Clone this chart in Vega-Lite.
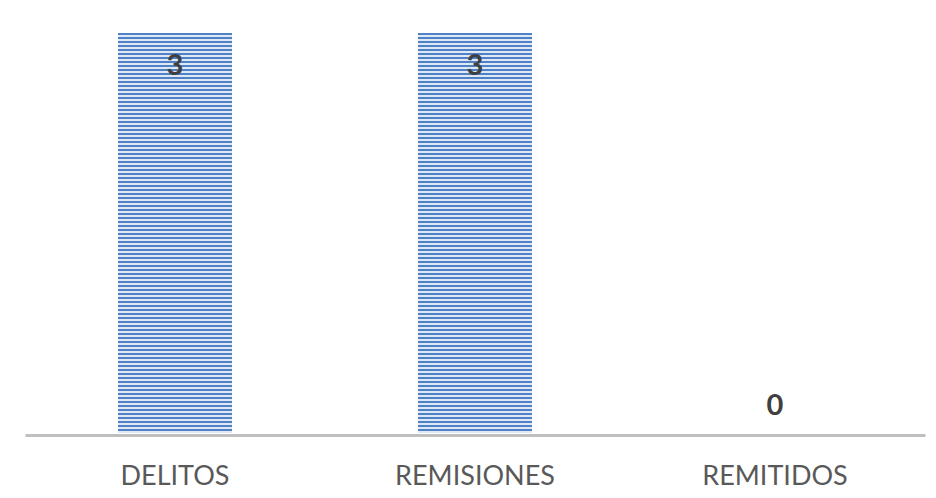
{
  "$schema": "https://vega.github.io/schema/vega-lite/v6.json",
  "width": 900,
  "height": 400,
  "autosize": {"type": "none"},
  "padding": {"left": 25, "top": 33, "right": 11, "bottom": 65},
  "background": "white",
  "config": {"view": {"stroke": null}, "font": "Lato"},
  "data": {
    "values": [
      {"categoria": "DELITOS", "total": 3},
      {"categoria": "REMISIONES", "total": 3},
      {"categoria": "REMITIDOS", "total": 0}
    ]
  },
  "encoding": {
    "x": {
      "field": "categoria",
      "type": "nominal",
      "sort": null,
      "scale": {"paddingInner": 0.62, "paddingOuter": 0.31},
      "axis": {
        "title": null,
        "labelAngle": 0,
        "ticks": false,
        "offset": 2,
        "domainColor": "#bfbfbf",
        "domainWidth": 3,
        "labelFont": "Lato",
        "labelFontSize": 27,
        "labelColor": "#595959",
        "labelPadding": 28
      }
    },
    "y": {
      "field": "total",
      "type": "quantitative",
      "scale": {"domain": [0, 3], "nice": false},
      "axis": null
    }
  },
  "layer": [
    {
      "mark": {
        "type": "bar",
        "fill": {
          "gradient": "linear",
          "x1": 0, "y1": 0, "x2": 0, "y2": 1,
          "stops": [
{"offset":0.00,"color":"#4f81c7"},{"offset":0.005,"color":"#4f81c7"},{"offset":0.005,"color":"#dfe9f6"},{"offset":0.01,"color":"#dfe9f6"},
{"offset":0.01,"color":"#4f81c7"},{"offset":0.015,"color":"#4f81c7"},{"offset":0.015,"color":"#dfe9f6"},{"offset":0.02,"color":"#dfe9f6"},
{"offset":0.02,"color":"#4f81c7"},{"offset":0.025,"color":"#4f81c7"},{"offset":0.025,"color":"#dfe9f6"},{"offset":0.03,"color":"#dfe9f6"},
{"offset":0.03,"color":"#4f81c7"},{"offset":0.035,"color":"#4f81c7"},{"offset":0.035,"color":"#dfe9f6"},{"offset":0.04,"color":"#dfe9f6"},
{"offset":0.04,"color":"#4f81c7"},{"offset":0.045,"color":"#4f81c7"},{"offset":0.045,"color":"#dfe9f6"},{"offset":0.05,"color":"#dfe9f6"},
{"offset":0.05,"color":"#4f81c7"},{"offset":0.055,"color":"#4f81c7"},{"offset":0.055,"color":"#dfe9f6"},{"offset":0.06,"color":"#dfe9f6"},
{"offset":0.06,"color":"#4f81c7"},{"offset":0.065,"color":"#4f81c7"},{"offset":0.065,"color":"#dfe9f6"},{"offset":0.07,"color":"#dfe9f6"},
{"offset":0.07,"color":"#4f81c7"},{"offset":0.075,"color":"#4f81c7"},{"offset":0.075,"color":"#dfe9f6"},{"offset":0.08,"color":"#dfe9f6"},
{"offset":0.08,"color":"#4f81c7"},{"offset":0.085,"color":"#4f81c7"},{"offset":0.085,"color":"#dfe9f6"},{"offset":0.09,"color":"#dfe9f6"},
{"offset":0.09,"color":"#4f81c7"},{"offset":0.095,"color":"#4f81c7"},{"offset":0.095,"color":"#dfe9f6"},{"offset":0.10,"color":"#dfe9f6"},
{"offset":0.10,"color":"#4f81c7"},{"offset":0.105,"color":"#4f81c7"},{"offset":0.105,"color":"#dfe9f6"},{"offset":0.11,"color":"#dfe9f6"},
{"offset":0.11,"color":"#4f81c7"},{"offset":0.115,"color":"#4f81c7"},{"offset":0.115,"color":"#dfe9f6"},{"offset":0.12,"color":"#dfe9f6"},
{"offset":0.12,"color":"#4f81c7"},{"offset":0.125,"color":"#4f81c7"},{"offset":0.125,"color":"#dfe9f6"},{"offset":0.13,"color":"#dfe9f6"},
{"offset":0.13,"color":"#4f81c7"},{"offset":0.135,"color":"#4f81c7"},{"offset":0.135,"color":"#dfe9f6"},{"offset":0.14,"color":"#dfe9f6"},
{"offset":0.14,"color":"#4f81c7"},{"offset":0.145,"color":"#4f81c7"},{"offset":0.145,"color":"#dfe9f6"},{"offset":0.15,"color":"#dfe9f6"},
{"offset":0.15,"color":"#4f81c7"},{"offset":0.155,"color":"#4f81c7"},{"offset":0.155,"color":"#dfe9f6"},{"offset":0.16,"color":"#dfe9f6"},
{"offset":0.16,"color":"#4f81c7"},{"offset":0.165,"color":"#4f81c7"},{"offset":0.165,"color":"#dfe9f6"},{"offset":0.17,"color":"#dfe9f6"},
{"offset":0.17,"color":"#4f81c7"},{"offset":0.175,"color":"#4f81c7"},{"offset":0.175,"color":"#dfe9f6"},{"offset":0.18,"color":"#dfe9f6"},
{"offset":0.18,"color":"#4f81c7"},{"offset":0.185,"color":"#4f81c7"},{"offset":0.185,"color":"#dfe9f6"},{"offset":0.19,"color":"#dfe9f6"},
{"offset":0.19,"color":"#4f81c7"},{"offset":0.195,"color":"#4f81c7"},{"offset":0.195,"color":"#dfe9f6"},{"offset":0.20,"color":"#dfe9f6"},
{"offset":0.20,"color":"#4f81c7"},{"offset":0.205,"color":"#4f81c7"},{"offset":0.205,"color":"#dfe9f6"},{"offset":0.21,"color":"#dfe9f6"},
{"offset":0.21,"color":"#4f81c7"},{"offset":0.215,"color":"#4f81c7"},{"offset":0.215,"color":"#dfe9f6"},{"offset":0.22,"color":"#dfe9f6"},
{"offset":0.22,"color":"#4f81c7"},{"offset":0.225,"color":"#4f81c7"},{"offset":0.225,"color":"#dfe9f6"},{"offset":0.23,"color":"#dfe9f6"},
{"offset":0.23,"color":"#4f81c7"},{"offset":0.235,"color":"#4f81c7"},{"offset":0.235,"color":"#dfe9f6"},{"offset":0.24,"color":"#dfe9f6"},
{"offset":0.24,"color":"#4f81c7"},{"offset":0.245,"color":"#4f81c7"},{"offset":0.245,"color":"#dfe9f6"},{"offset":0.25,"color":"#dfe9f6"},
{"offset":0.25,"color":"#4f81c7"},{"offset":0.255,"color":"#4f81c7"},{"offset":0.255,"color":"#dfe9f6"},{"offset":0.26,"color":"#dfe9f6"},
{"offset":0.26,"color":"#4f81c7"},{"offset":0.265,"color":"#4f81c7"},{"offset":0.265,"color":"#dfe9f6"},{"offset":0.27,"color":"#dfe9f6"},
{"offset":0.27,"color":"#4f81c7"},{"offset":0.275,"color":"#4f81c7"},{"offset":0.275,"color":"#dfe9f6"},{"offset":0.28,"color":"#dfe9f6"},
{"offset":0.28,"color":"#4f81c7"},{"offset":0.285,"color":"#4f81c7"},{"offset":0.285,"color":"#dfe9f6"},{"offset":0.29,"color":"#dfe9f6"},
{"offset":0.29,"color":"#4f81c7"},{"offset":0.295,"color":"#4f81c7"},{"offset":0.295,"color":"#dfe9f6"},{"offset":0.30,"color":"#dfe9f6"},
{"offset":0.30,"color":"#4f81c7"},{"offset":0.305,"color":"#4f81c7"},{"offset":0.305,"color":"#dfe9f6"},{"offset":0.31,"color":"#dfe9f6"},
{"offset":0.31,"color":"#4f81c7"},{"offset":0.315,"color":"#4f81c7"},{"offset":0.315,"color":"#dfe9f6"},{"offset":0.32,"color":"#dfe9f6"},
{"offset":0.32,"color":"#4f81c7"},{"offset":0.325,"color":"#4f81c7"},{"offset":0.325,"color":"#dfe9f6"},{"offset":0.33,"color":"#dfe9f6"},
{"offset":0.33,"color":"#4f81c7"},{"offset":0.335,"color":"#4f81c7"},{"offset":0.335,"color":"#dfe9f6"},{"offset":0.34,"color":"#dfe9f6"},
{"offset":0.34,"color":"#4f81c7"},{"offset":0.345,"color":"#4f81c7"},{"offset":0.345,"color":"#dfe9f6"},{"offset":0.35,"color":"#dfe9f6"},
{"offset":0.35,"color":"#4f81c7"},{"offset":0.355,"color":"#4f81c7"},{"offset":0.355,"color":"#dfe9f6"},{"offset":0.36,"color":"#dfe9f6"},
{"offset":0.36,"color":"#4f81c7"},{"offset":0.365,"color":"#4f81c7"},{"offset":0.365,"color":"#dfe9f6"},{"offset":0.37,"color":"#dfe9f6"},
{"offset":0.37,"color":"#4f81c7"},{"offset":0.375,"color":"#4f81c7"},{"offset":0.375,"color":"#dfe9f6"},{"offset":0.38,"color":"#dfe9f6"},
{"offset":0.38,"color":"#4f81c7"},{"offset":0.385,"color":"#4f81c7"},{"offset":0.385,"color":"#dfe9f6"},{"offset":0.39,"color":"#dfe9f6"},
{"offset":0.39,"color":"#4f81c7"},{"offset":0.395,"color":"#4f81c7"},{"offset":0.395,"color":"#dfe9f6"},{"offset":0.40,"color":"#dfe9f6"},
{"offset":0.40,"color":"#4f81c7"},{"offset":0.405,"color":"#4f81c7"},{"offset":0.405,"color":"#dfe9f6"},{"offset":0.41,"color":"#dfe9f6"},
{"offset":0.41,"color":"#4f81c7"},{"offset":0.415,"color":"#4f81c7"},{"offset":0.415,"color":"#dfe9f6"},{"offset":0.42,"color":"#dfe9f6"},
{"offset":0.42,"color":"#4f81c7"},{"offset":0.425,"color":"#4f81c7"},{"offset":0.425,"color":"#dfe9f6"},{"offset":0.43,"color":"#dfe9f6"},
{"offset":0.43,"color":"#4f81c7"},{"offset":0.435,"color":"#4f81c7"},{"offset":0.435,"color":"#dfe9f6"},{"offset":0.44,"color":"#dfe9f6"},
{"offset":0.44,"color":"#4f81c7"},{"offset":0.445,"color":"#4f81c7"},{"offset":0.445,"color":"#dfe9f6"},{"offset":0.45,"color":"#dfe9f6"},
{"offset":0.45,"color":"#4f81c7"},{"offset":0.455,"color":"#4f81c7"},{"offset":0.455,"color":"#dfe9f6"},{"offset":0.46,"color":"#dfe9f6"},
{"offset":0.46,"color":"#4f81c7"},{"offset":0.465,"color":"#4f81c7"},{"offset":0.465,"color":"#dfe9f6"},{"offset":0.47,"color":"#dfe9f6"},
{"offset":0.47,"color":"#4f81c7"},{"offset":0.475,"color":"#4f81c7"},{"offset":0.475,"color":"#dfe9f6"},{"offset":0.48,"color":"#dfe9f6"},
{"offset":0.48,"color":"#4f81c7"},{"offset":0.485,"color":"#4f81c7"},{"offset":0.485,"color":"#dfe9f6"},{"offset":0.49,"color":"#dfe9f6"},
{"offset":0.49,"color":"#4f81c7"},{"offset":0.495,"color":"#4f81c7"},{"offset":0.495,"color":"#dfe9f6"},{"offset":0.50,"color":"#dfe9f6"},
{"offset":0.50,"color":"#4f81c7"},{"offset":0.505,"color":"#4f81c7"},{"offset":0.505,"color":"#dfe9f6"},{"offset":0.51,"color":"#dfe9f6"},
{"offset":0.51,"color":"#4f81c7"},{"offset":0.515,"color":"#4f81c7"},{"offset":0.515,"color":"#dfe9f6"},{"offset":0.52,"color":"#dfe9f6"},
{"offset":0.52,"color":"#4f81c7"},{"offset":0.525,"color":"#4f81c7"},{"offset":0.525,"color":"#dfe9f6"},{"offset":0.53,"color":"#dfe9f6"},
{"offset":0.53,"color":"#4f81c7"},{"offset":0.535,"color":"#4f81c7"},{"offset":0.535,"color":"#dfe9f6"},{"offset":0.54,"color":"#dfe9f6"},
{"offset":0.54,"color":"#4f81c7"},{"offset":0.545,"color":"#4f81c7"},{"offset":0.545,"color":"#dfe9f6"},{"offset":0.55,"color":"#dfe9f6"},
{"offset":0.55,"color":"#4f81c7"},{"offset":0.555,"color":"#4f81c7"},{"offset":0.555,"color":"#dfe9f6"},{"offset":0.56,"color":"#dfe9f6"},
{"offset":0.56,"color":"#4f81c7"},{"offset":0.565,"color":"#4f81c7"},{"offset":0.565,"color":"#dfe9f6"},{"offset":0.57,"color":"#dfe9f6"},
{"offset":0.57,"color":"#4f81c7"},{"offset":0.575,"color":"#4f81c7"},{"offset":0.575,"color":"#dfe9f6"},{"offset":0.58,"color":"#dfe9f6"},
{"offset":0.58,"color":"#4f81c7"},{"offset":0.585,"color":"#4f81c7"},{"offset":0.585,"color":"#dfe9f6"},{"offset":0.59,"color":"#dfe9f6"},
{"offset":0.59,"color":"#4f81c7"},{"offset":0.595,"color":"#4f81c7"},{"offset":0.595,"color":"#dfe9f6"},{"offset":0.60,"color":"#dfe9f6"},
{"offset":0.60,"color":"#4f81c7"},{"offset":0.605,"color":"#4f81c7"},{"offset":0.605,"color":"#dfe9f6"},{"offset":0.61,"color":"#dfe9f6"},
{"offset":0.61,"color":"#4f81c7"},{"offset":0.615,"color":"#4f81c7"},{"offset":0.615,"color":"#dfe9f6"},{"offset":0.62,"color":"#dfe9f6"},
{"offset":0.62,"color":"#4f81c7"},{"offset":0.625,"color":"#4f81c7"},{"offset":0.625,"color":"#dfe9f6"},{"offset":0.63,"color":"#dfe9f6"},
{"offset":0.63,"color":"#4f81c7"},{"offset":0.635,"color":"#4f81c7"},{"offset":0.635,"color":"#dfe9f6"},{"offset":0.64,"color":"#dfe9f6"},
{"offset":0.64,"color":"#4f81c7"},{"offset":0.645,"color":"#4f81c7"},{"offset":0.645,"color":"#dfe9f6"},{"offset":0.65,"color":"#dfe9f6"},
{"offset":0.65,"color":"#4f81c7"},{"offset":0.655,"color":"#4f81c7"},{"offset":0.655,"color":"#dfe9f6"},{"offset":0.66,"color":"#dfe9f6"},
{"offset":0.66,"color":"#4f81c7"},{"offset":0.665,"color":"#4f81c7"},{"offset":0.665,"color":"#dfe9f6"},{"offset":0.67,"color":"#dfe9f6"},
{"offset":0.67,"color":"#4f81c7"},{"offset":0.675,"color":"#4f81c7"},{"offset":0.675,"color":"#dfe9f6"},{"offset":0.68,"color":"#dfe9f6"},
{"offset":0.68,"color":"#4f81c7"},{"offset":0.685,"color":"#4f81c7"},{"offset":0.685,"color":"#dfe9f6"},{"offset":0.69,"color":"#dfe9f6"},
{"offset":0.69,"color":"#4f81c7"},{"offset":0.695,"color":"#4f81c7"},{"offset":0.695,"color":"#dfe9f6"},{"offset":0.70,"color":"#dfe9f6"},
{"offset":0.70,"color":"#4f81c7"},{"offset":0.705,"color":"#4f81c7"},{"offset":0.705,"color":"#dfe9f6"},{"offset":0.71,"color":"#dfe9f6"},
{"offset":0.71,"color":"#4f81c7"},{"offset":0.715,"color":"#4f81c7"},{"offset":0.715,"color":"#dfe9f6"},{"offset":0.72,"color":"#dfe9f6"},
{"offset":0.72,"color":"#4f81c7"},{"offset":0.725,"color":"#4f81c7"},{"offset":0.725,"color":"#dfe9f6"},{"offset":0.73,"color":"#dfe9f6"},
{"offset":0.73,"color":"#4f81c7"},{"offset":0.735,"color":"#4f81c7"},{"offset":0.735,"color":"#dfe9f6"},{"offset":0.74,"color":"#dfe9f6"},
{"offset":0.74,"color":"#4f81c7"},{"offset":0.745,"color":"#4f81c7"},{"offset":0.745,"color":"#dfe9f6"},{"offset":0.75,"color":"#dfe9f6"},
{"offset":0.75,"color":"#4f81c7"},{"offset":0.755,"color":"#4f81c7"},{"offset":0.755,"color":"#dfe9f6"},{"offset":0.76,"color":"#dfe9f6"},
{"offset":0.76,"color":"#4f81c7"},{"offset":0.765,"color":"#4f81c7"},{"offset":0.765,"color":"#dfe9f6"},{"offset":0.77,"color":"#dfe9f6"},
{"offset":0.77,"color":"#4f81c7"},{"offset":0.775,"color":"#4f81c7"},{"offset":0.775,"color":"#dfe9f6"},{"offset":0.78,"color":"#dfe9f6"},
{"offset":0.78,"color":"#4f81c7"},{"offset":0.785,"color":"#4f81c7"},{"offset":0.785,"color":"#dfe9f6"},{"offset":0.79,"color":"#dfe9f6"},
{"offset":0.79,"color":"#4f81c7"},{"offset":0.795,"color":"#4f81c7"},{"offset":0.795,"color":"#dfe9f6"},{"offset":0.80,"color":"#dfe9f6"},
{"offset":0.80,"color":"#4f81c7"},{"offset":0.805,"color":"#4f81c7"},{"offset":0.805,"color":"#dfe9f6"},{"offset":0.81,"color":"#dfe9f6"},
{"offset":0.81,"color":"#4f81c7"},{"offset":0.815,"color":"#4f81c7"},{"offset":0.815,"color":"#dfe9f6"},{"offset":0.82,"color":"#dfe9f6"},
{"offset":0.82,"color":"#4f81c7"},{"offset":0.825,"color":"#4f81c7"},{"offset":0.825,"color":"#dfe9f6"},{"offset":0.83,"color":"#dfe9f6"},
{"offset":0.83,"color":"#4f81c7"},{"offset":0.835,"color":"#4f81c7"},{"offset":0.835,"color":"#dfe9f6"},{"offset":0.84,"color":"#dfe9f6"},
{"offset":0.84,"color":"#4f81c7"},{"offset":0.845,"color":"#4f81c7"},{"offset":0.845,"color":"#dfe9f6"},{"offset":0.85,"color":"#dfe9f6"},
{"offset":0.85,"color":"#4f81c7"},{"offset":0.855,"color":"#4f81c7"},{"offset":0.855,"color":"#dfe9f6"},{"offset":0.86,"color":"#dfe9f6"},
{"offset":0.86,"color":"#4f81c7"},{"offset":0.865,"color":"#4f81c7"},{"offset":0.865,"color":"#dfe9f6"},{"offset":0.87,"color":"#dfe9f6"},
{"offset":0.87,"color":"#4f81c7"},{"offset":0.875,"color":"#4f81c7"},{"offset":0.875,"color":"#dfe9f6"},{"offset":0.88,"color":"#dfe9f6"},
{"offset":0.88,"color":"#4f81c7"},{"offset":0.885,"color":"#4f81c7"},{"offset":0.885,"color":"#dfe9f6"},{"offset":0.89,"color":"#dfe9f6"},
{"offset":0.89,"color":"#4f81c7"},{"offset":0.895,"color":"#4f81c7"},{"offset":0.895,"color":"#dfe9f6"},{"offset":0.90,"color":"#dfe9f6"},
{"offset":0.90,"color":"#4f81c7"},{"offset":0.905,"color":"#4f81c7"},{"offset":0.905,"color":"#dfe9f6"},{"offset":0.91,"color":"#dfe9f6"},
{"offset":0.91,"color":"#4f81c7"},{"offset":0.915,"color":"#4f81c7"},{"offset":0.915,"color":"#dfe9f6"},{"offset":0.92,"color":"#dfe9f6"},
{"offset":0.92,"color":"#4f81c7"},{"offset":0.925,"color":"#4f81c7"},{"offset":0.925,"color":"#dfe9f6"},{"offset":0.93,"color":"#dfe9f6"},
{"offset":0.93,"color":"#4f81c7"},{"offset":0.935,"color":"#4f81c7"},{"offset":0.935,"color":"#dfe9f6"},{"offset":0.94,"color":"#dfe9f6"},
{"offset":0.94,"color":"#4f81c7"},{"offset":0.945,"color":"#4f81c7"},{"offset":0.945,"color":"#dfe9f6"},{"offset":0.95,"color":"#dfe9f6"},
{"offset":0.95,"color":"#4f81c7"},{"offset":0.955,"color":"#4f81c7"},{"offset":0.955,"color":"#dfe9f6"},{"offset":0.96,"color":"#dfe9f6"},
{"offset":0.96,"color":"#4f81c7"},{"offset":0.965,"color":"#4f81c7"},{"offset":0.965,"color":"#dfe9f6"},{"offset":0.97,"color":"#dfe9f6"},
{"offset":0.97,"color":"#4f81c7"},{"offset":0.975,"color":"#4f81c7"},{"offset":0.975,"color":"#dfe9f6"},{"offset":0.98,"color":"#dfe9f6"},
{"offset":0.98,"color":"#4f81c7"},{"offset":0.985,"color":"#4f81c7"},{"offset":0.985,"color":"#dfe9f6"},{"offset":0.99,"color":"#dfe9f6"},
{"offset":0.99,"color":"#4f81c7"},{"offset":0.995,"color":"#4f81c7"},{"offset":0.995,"color":"#dfe9f6"},{"offset":1.00,"color":"#dfe9f6"}
          ]
        }
      }
    },
    {
      "transform": [{"filter": "datum.total > 0"}],
      "mark": {"type": "text", "dy": 33, "fontSize": 29, "fontWeight": "bold", "color": "#404040", "font": "Lato"},
      "encoding": {"text": {"field": "total", "type": "quantitative"}}
    },
    {
      "transform": [{"filter": "datum.total == 0"}],
      "mark": {"type": "text", "dy": -27, "fontSize": 29, "fontWeight": "bold", "color": "#404040", "font": "Lato"},
      "encoding": {"text": {"field": "total", "type": "quantitative"}}
    }
  ]
}
